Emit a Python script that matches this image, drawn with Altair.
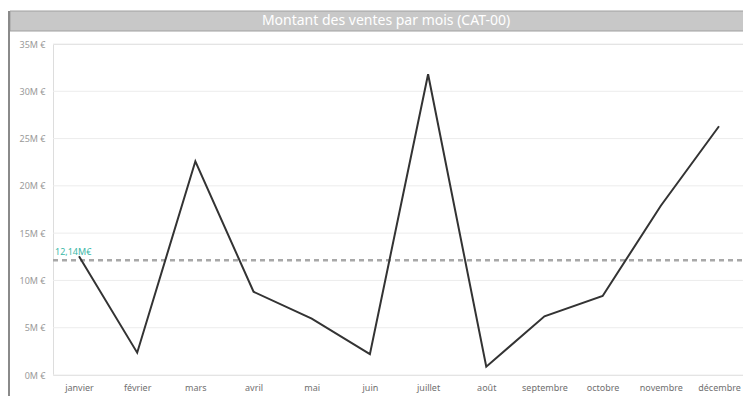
import altair as alt
import pandas as pd

months = ["janvier", "février", "mars", "avril", "mai", "juin", "juillet",
          "août", "septembre", "octobre", "novembre", "décembre"]
sales_m = [12.55, 2.36, 22.6, 8.8, 5.97, 2.21, 31.8, 0.88, 6.2, 8.36, 17.9, 26.3]
avg_value = 12.14
avg_label = "12,14M€"
title_text = "Montant des ventes par mois (CAT-00)"
y_ticks = [0, 5, 10, 15, 20, 25, 30, 35]

W = 690
H = 331
FONT = "Noto Sans"

df = pd.DataFrame({"mois": months, "montant": sales_m})
avg_df = pd.DataFrame({"avg": [avg_value], "label": [avg_label]})
title_df = pd.DataFrame({"t": [title_text]})
grid_df = pd.DataFrame({"v": y_ticks})

x_enc = alt.X("mois:O", sort=months, title=None,
              scale=alt.Scale(type="point", range=[26, 666], padding=0),
              axis=alt.Axis(labelAngle=0, domain=False, ticks=False, grid=False,
                            labelPadding=8, labelFont=FONT, labelFontSize=9,
                            labelColor="#707070"))
y_scale = alt.Scale(domain=[0, 35], nice=False)

grid = alt.Chart(grid_df).mark_rule(color="#ececec", strokeWidth=1).encode(
    x=alt.value(0), x2=alt.value(W + 10),
    y=alt.Y("v:Q", scale=y_scale, title=None,
            axis=alt.Axis(values=y_ticks, labelExpr="datum.value + 'M €'",
                          domain=False, ticks=False, grid=False, labelPadding=8,
                          labelFont=FONT, labelFontSize=9, labelColor="#9a9a9a")),
)

line = alt.Chart(df).mark_line(color="#333333", strokeWidth=2).encode(
    x=x_enc,
    y=alt.Y("montant:Q", scale=y_scale, title=None),
)

avg_rule = alt.Chart(avg_df).mark_rule(color="#a8a8a8", strokeWidth=2.5,
                                        strokeDash=[5, 4]).encode(
    x=alt.value(0), x2=alt.value(W + 10),
    y=alt.Y("avg:Q", scale=y_scale)
)

avg_text = alt.Chart(avg_df).mark_text(align="left", baseline="bottom", dy=-3,
                                       font=FONT, fontSize=9, color="#3db8a8").encode(
    x=alt.value(2),
    y=alt.Y("avg:Q", scale=y_scale),
    text="label:N",
)

title_bar = alt.Chart(title_df).mark_rect(color="#c8c8c8", stroke="#a0a0a0",
                                          strokeWidth=1).encode(
    x=alt.value(-43), x2=alt.value(W + 10), y=alt.value(-33), y2=alt.value(-13)
)

title_mark = alt.Chart(title_df).mark_text(font=FONT, fontSize=14, color="#ffffff",
                                           align="center", baseline="middle").encode(
    x=alt.value(333), y=alt.value(-23), text="t:N"
)

left_border = alt.Chart(title_df).mark_rule(color="#8a8a8a", strokeWidth=2).encode(
    x=alt.value(-44), y=alt.value(-33), y2=alt.value(H + 30)
)

chart = alt.layer(title_bar, left_border, title_mark, grid, avg_rule, line, avg_text).properties(
    width=W, height=H,
    autosize=alt.AutoSizeParams(type="none"),
    padding={"left": 45, "top": 36, "right": 0, "bottom": 21},
).configure_view(stroke=None).configure(background="white")

chart.save("out.html", embed_options={"renderer": "svg", "actions": False})
